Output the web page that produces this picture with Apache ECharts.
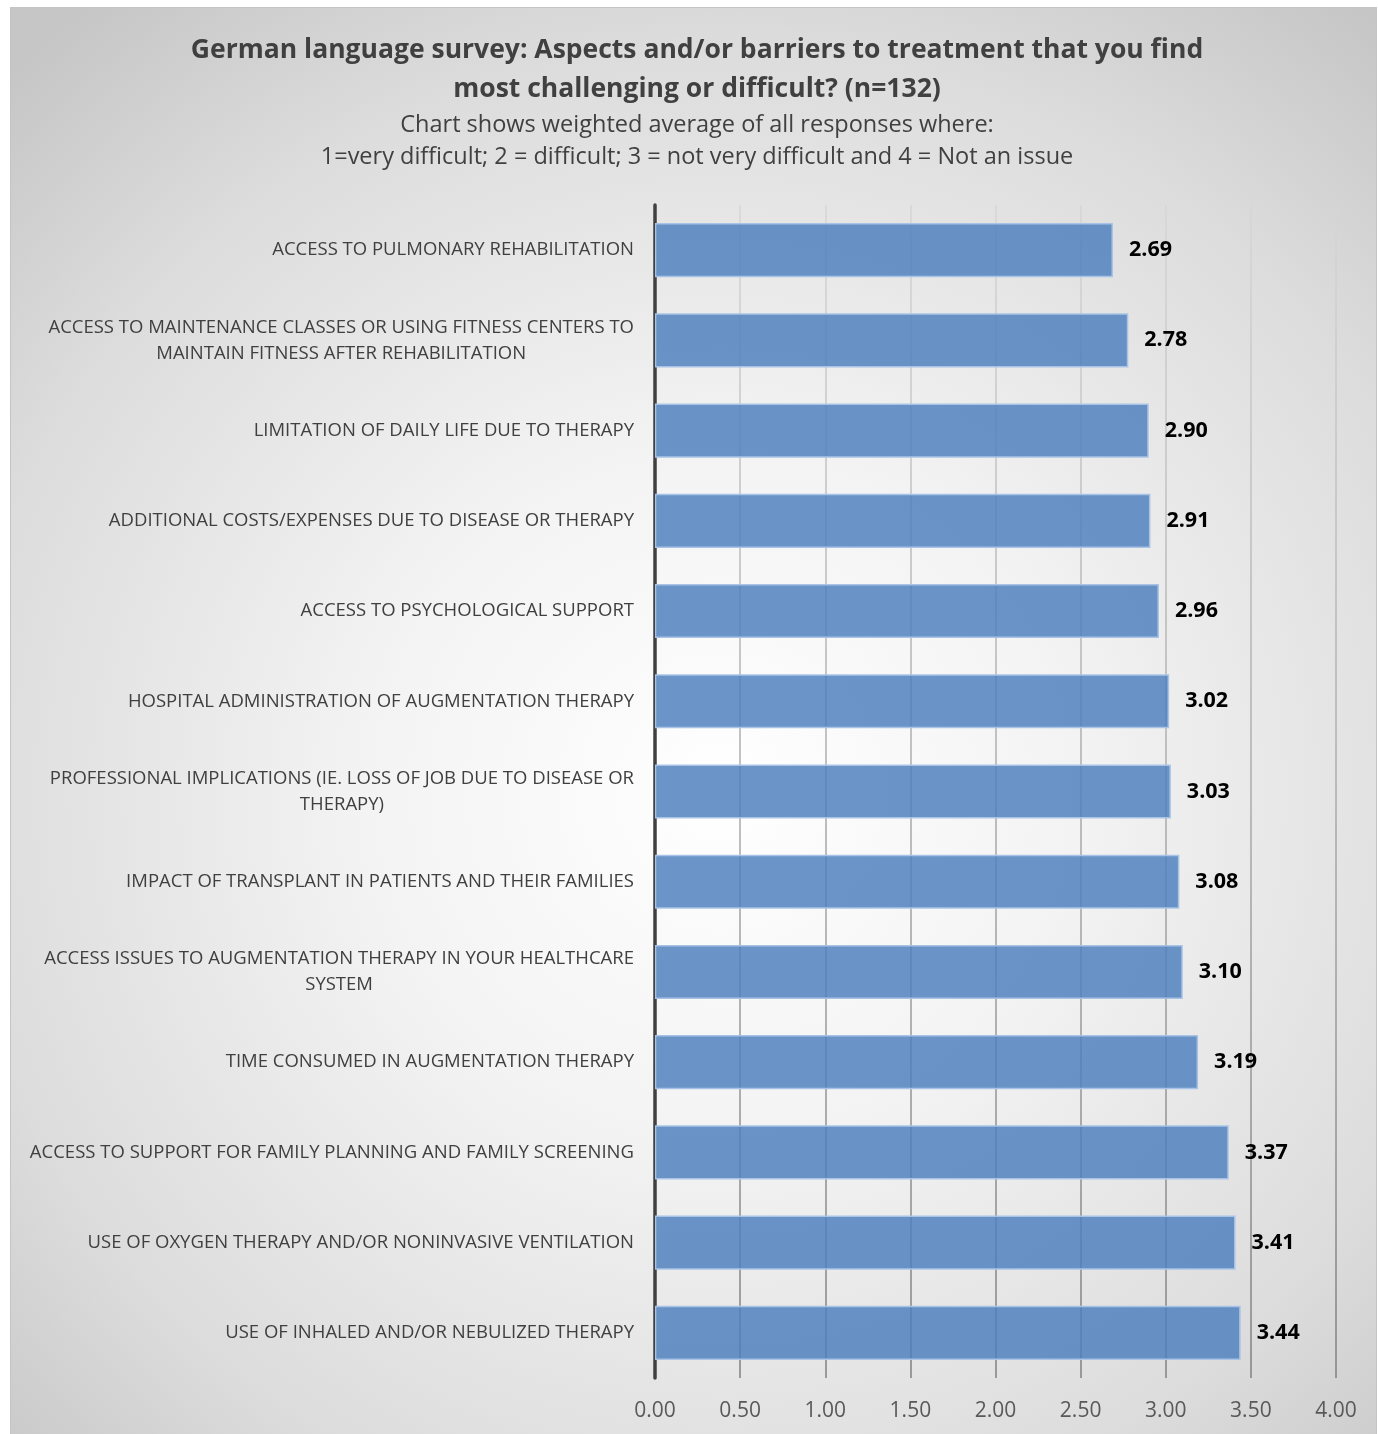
<!DOCTYPE html>
<html>
<head>
<meta charset="utf-8">
<title>German language survey</title>
<script src="https://cdn.jsdelivr.net/npm/echarts@6/dist/echarts.min.js"></script>
<style>
  html, body { margin: 0; padding: 0; background: #fff; }
  #panel {
    position: absolute; left: 10px; top: 7px; width: 1365px; height: 1426px;
    border: 1px solid #c4c4c4;
    background: radial-gradient(ellipse 75% 70% at 52% 55%, #ffffff 0%, #f3f3f3 35%, #dcdcdc 75%, #c6c6c6 100%);
  }
  #chart { position: absolute; left: 0; top: 0; width: 1378px; height: 1434px; }
</style>
</head>
<body>
<div id="panel"></div>
<div id="chart"></div>
<script>
// 问卷条目（从上到下）
const categories = [
  'ACCESS TO PULMONARY REHABILITATION',
  'ACCESS TO MAINTENANCE CLASSES OR USING FITNESS CENTERS TO\nMAINTAIN FITNESS AFTER REHABILITATION',
  'LIMITATION OF DAILY LIFE DUE TO THERAPY',
  'ADDITIONAL COSTS/EXPENSES DUE TO DISEASE OR THERAPY',
  'ACCESS TO PSYCHOLOGICAL SUPPORT',
  'HOSPITAL ADMINISTRATION OF AUGMENTATION THERAPY',
  'PROFESSIONAL IMPLICATIONS (IE. LOSS OF JOB DUE TO DISEASE OR\nTHERAPY)',
  'IMPACT OF TRANSPLANT IN PATIENTS AND THEIR FAMILIES',
  'ACCESS ISSUES TO AUGMENTATION THERAPY IN YOUR HEALTHCARE\nSYSTEM',
  'TIME CONSUMED IN AUGMENTATION THERAPY',
  'ACCESS TO SUPPORT FOR FAMILY PLANNING AND FAMILY SCREENING',
  'USE OF OXYGEN THERAPY AND/OR NONINVASIVE VENTILATION',
  'USE OF INHALED AND/OR NEBULIZED THERAPY'
]
// 加权平均分
const values = [2.69, 2.78, 2.90, 2.91, 2.96, 3.02, 3.03, 3.08, 3.10, 3.19, 3.37, 3.41, 3.44]

const titleText = 'German language survey: Aspects and/or barriers to treatment that you find\nmost challenging or difficult? (n=132)'
const subText = 'Chart shows weighted average of all responses where:\n1=very difficult; 2 = difficult; 3 = not very difficult and 4 = Not an issue'

const font = '"Open Sans", "Noto Sans", sans-serif'
const chart = echarts.init(document.getElementById('chart'))

chart.setOption({
  backgroundColor: 'transparent',
  animation: false,
  title: {
    text: titleText,
    subtext: subText,
    left: 697,
    top: 31,
    padding: 0,
    textAlign: 'center',
    itemGap: 0,
    textStyle: {
      fontFamily: font, fontSize: 26.5, fontWeight: 'bold', color: '#404040', lineHeight: 39
    },
    subtextStyle: {
      fontFamily: font, fontSize: 23.5, color: '#404040', lineHeight: 32
    }
  },
  grid: { left: 655, right: 42, top: 205, bottom: 56, containLabel: false },
  xAxis: {
    type: 'value',
    min: 0,
    max: 4,
    interval: 0.5,
    axisLine: { show: false },
    axisTick: { show: false },
    axisLabel: {
      margin: 23,
      color: '#595959',
      fontFamily: font,
      fontSize: 21,
      formatter: v => v.toFixed(2)
    },
    splitLine: {
      show: true,
      lineStyle: {
        width: 1.5,
        color: new echarts.graphic.LinearGradient(0, 0, 0, 1, [
          { offset: 0, color: '#d6d6d6' },
          { offset: 1, color: '#808080' }
        ])
      }
    }
  },
  yAxis: {
    type: 'category',
    inverse: true,
    data: categories,
    axisLine: { show: true, lineStyle: { color: '#404040', width: 3.5 } },
    axisTick: { show: false },
    axisLabel: {
      margin: 21,
      color: '#404040',
      fontFamily: font,
      fontSize: 18.5,
      lineHeight: 26,
      formatter: v => v.split('\n').map(s => '{c|' + s + '}').join('\n'),
      rich: {
        c: { align: 'center', fontFamily: font, fontSize: 18.5, color: '#404040', lineHeight: 26 }
      }
    }
  },
  series: [
    {
      type: 'bar',
      data: values,
      barCategoryGap: '40%',
      z: 1,
      itemStyle: {
        color: 'rgba(79,129,189,0.84)',
        borderColor: '#a8c3e6',
        borderWidth: 1.5
      },
      label: {
        show: true,
        position: 'right',
        distance: 16,
        color: '#000',
        fontFamily: font,
        fontSize: 21.5,
        fontWeight: 'bold',
        formatter: p => p.value.toFixed(2)
      }
    }
  ]
})
</script>
</body>
</html>
